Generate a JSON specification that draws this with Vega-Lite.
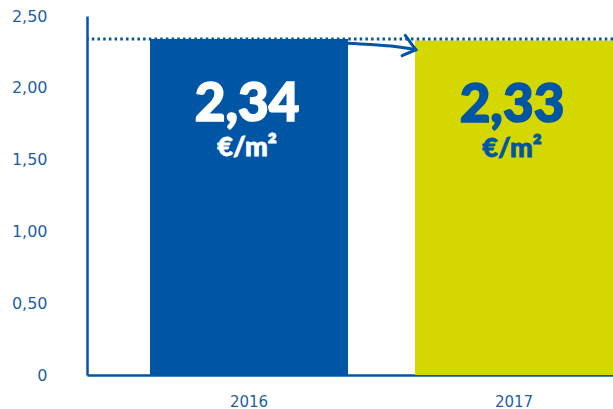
{
  "$schema": "https://vega.github.io/schema/vega-lite/v6.json",
  "width": 526,
  "height": 359,
  "autosize": {"type": "none"},
  "padding": {"left": 87, "top": 16, "right": 0, "bottom": 34},
  "background": "white",
  "config": {"view": {"stroke": null}},
  "datasets": {
    "bars": [
      {"year": "2016", "value": 2.34, "label": "2,34", "unit": "€/m²"},
      {"year": "2017", "value": 2.33, "label": "2,33", "unit": "€/m²"}
    ],
    "ref": [{"ref": 2.34}],
    "shaft": [
      {"xu": 0.370, "yv": 2.310},
      {"xu": 0.457, "yv": 2.301},
      {"xu": 0.551, "yv": 2.287},
      {"xu": 0.630, "yv": 2.265}
    ],
    "head": [
      {"xu": 0.590, "yv": 2.365, "o": 1},
      {"xu": 0.630, "yv": 2.265, "o": 2},
      {"xu": 0.578, "yv": 2.224, "o": 3}
    ]
  },
  "resolve": {"scale": {"x": "independent"}},
  "layer": [
    {
      "data": {"name": "bars"},
      "layer": [
        {
          "mark": {"type": "bar"},
          "encoding": {
            "x": {
              "field": "year", "type": "nominal",
              "scale": {"paddingInner": 0.2528, "paddingOuter": 0.1189, "align": 1},
              "axis": {
                "title": null, "labelAngle": 0, "ticks": false, "tickSize": 0,
                "domainColor": "#0055a4", "domainWidth": 2.5,
                "labelColor": "#1f5fa6", "labelFont": "DejaVu Sans", "labelFontSize": 15,
                "labelPadding": 19
              }
            },
            "y": {
              "field": "value", "type": "quantitative",
              "scale": {"domain": [0, 2.5], "nice": false, "zero": true},
              "axis": {
                "title": null, "grid": false, "ticks": false, "tickSize": 0,
                "values": [0, 0.5, 1, 1.5, 2, 2.5],
                "labelExpr": "datum.value == 0 ? '0' : replace(format(datum.value, '.2f'), '.', ',')",
                "domainColor": "#0055a4", "domainWidth": 2.5,
                "labelColor": "#1f5fa6", "labelFont": "DejaVu Sans", "labelFontSize": 16,
                "labelPadding": 40, "labelAlign": "right", "labelBaseline": "middle"
              }
            },
            "color": {
              "field": "year", "type": "nominal",
              "scale": {"domain": ["2016", "2017"], "range": ["#0055a4", "#d4d800"]},
              "legend": null
            }
          }
        },
        {
          "mark": {"type": "text", "font": "Lato Black, Lato", "fontWeight": 900, "fontSize": 53, "baseline": "middle", "align": "center", "dy": 66, "dx": -2, "strokeWidth": 1.6},
          "encoding": {
            "x": {"field": "year", "type": "nominal"},
            "y": {"field": "value", "type": "quantitative"},
            "text": {"field": "label"},
            "color": {"condition": {"test": "datum.year == '2016'", "value": "white"}, "value": "#0055a4"},
            "stroke": {"condition": {"test": "datum.year == '2016'", "value": "white"}, "value": "#0055a4"}
          }
        },
        {
          "mark": {"type": "text", "font": "Lato Black, Lato", "fontWeight": 900, "fontSize": 27, "baseline": "middle", "align": "center", "dy": 109, "dx": -2, "strokeWidth": 0.8},
          "encoding": {
            "x": {"field": "year", "type": "nominal"},
            "y": {"field": "value", "type": "quantitative"},
            "text": {"field": "unit"},
            "color": {"condition": {"test": "datum.year == '2016'", "value": "white"}, "value": "#0055a4"},
            "stroke": {"condition": {"test": "datum.year == '2016'", "value": "white"}, "value": "#0055a4"}
          }
        }
      ]
    },
    {
      "data": {"name": "ref"},
      "mark": {"type": "rule", "color": "#0055a4", "strokeWidth": 3, "strokeDash": [2.5, 3.2]},
      "encoding": {
        "y": {"field": "ref", "type": "quantitative"}
      }
    },
    {
      "layer": [
        {
          "data": {"name": "shaft"},
          "mark": {"type": "line", "interpolate": "monotone", "color": "#0055a4", "strokeWidth": 3, "strokeCap": "round"},
          "encoding": {
            "x": {"field": "xu", "type": "quantitative", "scale": {"domain": [-0.611, 1.374], "nice": false, "zero": false}, "axis": null},
            "y": {"field": "yv", "type": "quantitative"}
          }
        },
        {
          "data": {"name": "head"},
          "mark": {"type": "line", "color": "#0055a4", "strokeWidth": 3, "strokeCap": "round", "strokeJoin": "miter"},
          "encoding": {
            "x": {"field": "xu", "type": "quantitative", "axis": null},
            "y": {"field": "yv", "type": "quantitative"},
            "order": {"field": "o"}
          }
        }
      ]
    }
  ]
}
